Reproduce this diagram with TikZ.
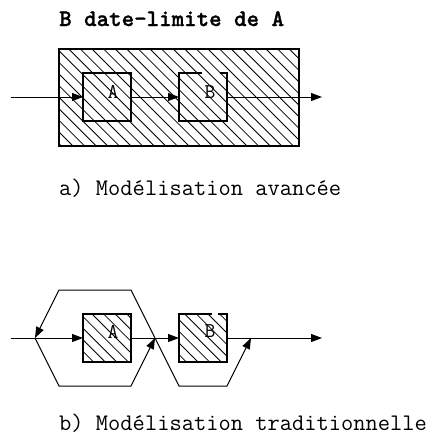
\documentclass[tikz,border=0pt]{standalone}
\usepackage{fontspec}
\newfontfamily\ttreg{Latin Modern Mono}
\newfontfamily\ttbold{lmmonolt10-bold.otf}[FakeBold=1.2]
\usetikzlibrary{arrows.meta}
\newcommand\hatchrect[4]{%
  \begin{scope}
    \clip (#1,#2) rectangle (#3,#4);
    \foreach \c in {-140,-128.4,...,460} \draw[hatchline] (\c,#2) -- ++(130,130);
  \end{scope}}
\begin{document}
\begin{tikzpicture}[x=1pt,y=-1pt,
  hatchline/.style={line width=0.8pt},
  box/.style={minimum width=48pt,minimum height=48pt,inner sep=0pt,outer sep=0pt},
  border/.style={line width=1.2pt},
  conn/.style={line width=1pt},
  arr/.style={conn,-{Triangle[length=11pt,width=8pt]}},
  lbl/.style={font=\ttreg\fontsize{21}{21}\selectfont,inner sep=0pt,anchor=base},
  captext/.style={font=\ttreg\fontsize{23.8}{26}\selectfont,inner sep=0pt,anchor=base west}]
\useasboundingbox (0,0) rectangle (439,437);

% title
\node[captext,font=\ttbold\fontsize{23.8}{26}\selectfont] (title) at (59,26) {B date-limite de A};

% ---- a) advanced modelling
\hatchrect{59}{49}{299}{146}
\node[box,border,draw,minimum width=240pt,minimum height=97pt] (frame) at (179,97.5) {};
\node[box,border,draw] (A) at (107,97) {};
\node[box] (B) at (203,97) {};
\draw[border] (202,73) -- (B.north west) -- (B.south west) -- (B.south east) -- (B.north east) -- (220,73);
\node[lbl] (la) at (113,98) {A};
\node[lbl] (lb) at (210,98) {B};
\coordinate (inT) at (11,97);
\coordinate (outT) at (322,97);
\draw[arr] (inT) -- (A.west);
\draw[arr] (A.east) -- (B.west);
\draw[arr] (B.east) -- (outT);
\node[captext] (capa) at (59,195) {a) Modélisation avancée};

% ---- b) traditional modelling
\hatchrect{83}{314}{131}{362}
\hatchrect{179}{314}{227}{362}
\node[box,border,draw] (A2) at (107,338) {};
\node[box] (B2) at (203,338) {};
\draw[border] (212,314) -- (B2.north west) -- (B2.south west) -- (B2.south east) -- (B2.north east) -- (218,314);
\node[lbl] (la2) at (113,338) {A};
\node[lbl] (lb2) at (210,337) {B};
\coordinate (inB) at (11,338);
\coordinate (outB) at (322,338);
\coordinate (j1) at (35,338);
\coordinate (j2) at (155,338);
\coordinate (j3) at (251,338);
\coordinate (h1) at (131,290);
\coordinate (h2) at (59,290);
\coordinate (h3) at (59,386);
\coordinate (h4) at (131,386);
\coordinate (h5) at (179,386);
\coordinate (h6) at (227,386);
\draw[arr] (inB) -- (A2.west);
\draw[arr] (A2.east) -- (B2.west);
\draw[arr] (B2.east) -- (outB);
\draw[arr] (j2) -- (h1) -- (h2) -- (j1);
\draw[arr] (j1) -- (h3) -- (h4) -- (j2);
\draw[arr] (j2) -- (h5) -- (h6) -- (j3);
\node[captext] (capb) at (59,430) {b) Modélisation traditionnelle};
\end{tikzpicture}
\end{document}
